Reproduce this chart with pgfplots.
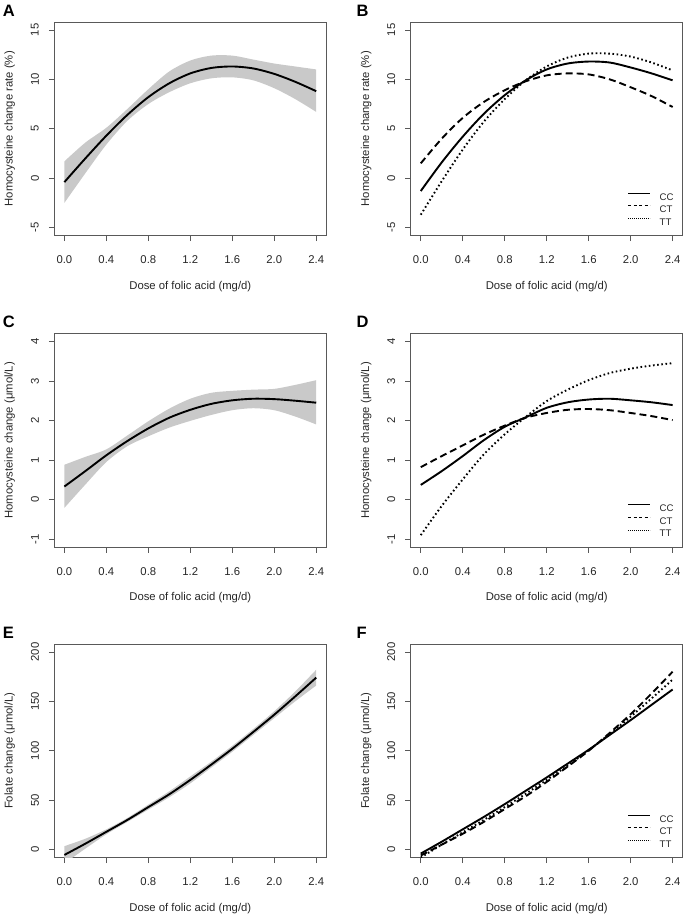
\documentclass[border=0pt]{standalone}
\usepackage{fontspec}
\setmainfont{Liberation Sans}
\usepackage{pgfplots}
\usepackage{pgfplotstable}
\usepgfplotslibrary{fillbetween}
\pgfplotsset{compat=1.18}

\newcommand\rfont{\fontsize{11.3}{13.5}\selectfont}
\newcommand\lfont{\fontsize{9.6}{11}\selectfont}
\newcommand\pfont{\fontsize{16.5}{18}\selectfont\bfseries}

% single fits with confidence band
\pgfplotstableread{
x   fit    lo    hi
0.0 -0.4   -2.5  1.7
0.2  2.0    0.5  3.6
0.4  4.3    3.4  5.1
0.6  6.4    5.8  7.0
0.8  8.2    7.5  9.0
1.0  9.6    8.7  10.8
1.2 10.6    9.6  11.9
1.4 11.15  10.1  12.4
1.6 11.3   10.2  12.4
1.8 11.1    9.9  12.0
2.0 10.55   9.1  11.6
2.2  9.75   8.0  11.3
2.4  8.8    6.7  11.0
}\tabA

\pgfplotstableread{
x   fit   lo    hi
0.0 0.33 -0.21 0.88
0.2 0.72  0.38 1.08
0.4 1.12  0.95 1.27
0.6 1.48  1.35 1.62
0.8 1.80  1.60 1.98
1.0 2.07  1.82 2.30
1.2 2.27  1.99 2.55
1.4 2.42  2.14 2.70
1.6 2.51  2.26 2.75
1.8 2.55  2.31 2.78
2.0 2.54  2.26 2.80
2.2 2.50  2.10 2.90
2.4 2.45  1.90 3.02
}\tabC

\pgfplotstableread{
x   fit    lo     hi
0.0 -5.4  -14.0   3.5
0.2  6.0    1.0  11.0
0.4 18.0   15.5  20.5
0.6 30.0   28.0  32.0
0.8 43.0   40.5  45.5
1.0 56.0   53.0  59.0
1.2 70.5   67.0  74.0
1.4 86.0   83.0  89.0
1.6 102.0  99.0 105.0
1.8 119.0 116.0 122.0
2.0 136.5 133.0 140.0
2.2 155.0 150.0 160.0
2.4 174.0 166.0 182.0
}\tabE

% fits by genotype
\pgfplotstableread{
x   CC    CT    TT
0.0 -1.3  1.5  -3.7
0.2  1.6  4.0  -0.3
0.4  4.2  6.1   2.9
0.6  6.5  7.7   5.7
0.8  8.4  8.9   8.0
1.0  9.9  9.8   9.9
1.2 11.0 10.4  11.3
1.4 11.6 10.6  12.2
1.6 11.8 10.5  12.6
1.8 11.7 10.0  12.6
2.0 11.2  9.2  12.3
2.2 10.6  8.3  11.7
2.4  9.9  7.2  10.9
}\tabB

\pgfplotstableread{
x   CC    CT    TT
0.0 0.37  0.82 -0.90
0.2 0.72  1.10 -0.16
0.4 1.10  1.37  0.51
0.6 1.50  1.64  1.14
0.8 1.84  1.87  1.65
1.0 2.08  2.07  2.09
1.2 2.32  2.19  2.49
1.4 2.46  2.27  2.78
1.6 2.53  2.29  3.02
1.8 2.55  2.26  3.20
2.0 2.51  2.19  3.31
2.2 2.46  2.11  3.39
2.4 2.39  2.01  3.45
}\tabD

\pgfplotstableread{
x   CC    CT    TT
0.0 -4.0  -6.0  -8.0
0.2  8.0   5.0   5.0
0.4 20.5  16.0  17.5
0.6 33.0  28.0  30.0
0.8 46.0  41.0  43.0
1.0 59.5  54.0  56.5
1.2 73.0  68.5  70.5
1.4 87.0  84.0  85.0
1.6 101.0 100.0 100.5
1.8 116.0 118.0 117.0
2.0 131.0 137.0 134.5
2.2 146.5 158.0 153.0
2.4 162.0 180.0 172.0
}\tabF

\pgfplotsset{
  panel/.style={
    scale only axis, width=272pt, height=213.5pt,
    xmin=-0.096, xmax=2.496,
    xtick={0,0.4,0.8,1.2,1.6,2.0,2.4},
    xticklabels={0.0,0.4,0.8,1.2,1.6,2.0,2.4},
    xtick pos=left, ytick pos=left,
    tick align=outside, major tick length=5.5pt,
    axis line style={black!65, line width=0.8pt},
    every tick/.append style={black!65, line width=0.8pt},
    tick label style={font=\rfont, text=black!85},
    label style={font=\rfont, text=black!85},
    xticklabel style={anchor=center, yshift=-19pt},
    yticklabel style={xshift=-13.9pt, rotate=90, anchor=center},
    xlabel={Dose of folic acid (mg/d)},
    xlabel style={at={([yshift=-51pt]axis description cs:0.5,0)}, anchor=center},
    ylabel style={at={([xshift=-44.5pt]axis description cs:0,0.5)}, anchor=center},
    /pgf/number format/assume math mode=true,
    legend cell align=left,
    legend image code/.code={\draw[##1] (0pt,3.45pt) -- (22pt,3.45pt);},
    legend style={draw=none, fill=none, inner sep=0pt,
      at={(axis description cs:1,0)}, anchor=south east,
      xshift=-9pt, yshift=10pt,
      nodes={inner sep=0pt, text height=6.9pt, text depth=0pt, font=\lfont, text=black!85},
      row sep=5.3pt, column sep=9pt},
  },
  fitline/.style={black, line width=1.9pt, smooth},
  cc/.style={black, line width=1.9pt, smooth},
  ct/.style={black, line width=1.9pt, smooth, dash pattern=on 7pt off 4pt},
  tt/.style={black, line width=1.9pt, smooth, dash pattern=on 1.6pt off 2.6pt},
  legcc/.style={black, line width=0.8pt},
  legct/.style={black, line width=0.8pt, dash pattern=on 3pt off 2.5pt},
  legtt/.style={black, line width=0.8pt, dash pattern=on 0.8pt off 1.2pt},
}

\begin{document}
\begin{tikzpicture}

% ---- A ----
\begin{axis}[panel, at={(54.3pt,-235.5pt)}, anchor=south west,
  ymin=-5.8, ymax=15.8, ytick={-5,0,5,10,15},
  ylabel={Homocysteine change rate (\%)}]
\addplot[name path=hiA, draw=none, smooth] table[x=x, y=hi] {\tabA};
\addplot[name path=loA, draw=none, smooth] table[x=x, y=lo] {\tabA};
\addplot[fill=black!21, draw=none] fill between[of=hiA and loA];
\addplot[fitline] table[x=x, y=fit] {\tabA};
\end{axis}

% ---- B ----
\begin{axis}[panel, at={(410.7pt,-235.5pt)}, anchor=south west,
  ymin=-5.8, ymax=15.8, ytick={-5,0,5,10,15},
  ylabel={Homocysteine change rate (\%)}]
\addlegendimage{legcc}
\addlegendimage{legct}
\addlegendimage{legtt}
\addplot[cc, forget plot] table[x=x, y=CC] {\tabB};
\addplot[ct, forget plot] table[x=x, y=CT] {\tabB};
\addplot[tt, forget plot] table[x=x, y=TT] {\tabB};
\legend{CC,CT,TT}
\end{axis}

% ---- C ----
\begin{axis}[panel, at={(54.3pt,-547pt)}, anchor=south west,
  ymin=-1.2, ymax=4.2, ytick={-1,0,1,2,3,4},
  ylabel={Homocysteine change (μmol/L)}]
\addplot[name path=hiC, draw=none, smooth] table[x=x, y=hi] {\tabC};
\addplot[name path=loC, draw=none, smooth] table[x=x, y=lo] {\tabC};
\addplot[fill=black!21, draw=none] fill between[of=hiC and loC];
\addplot[fitline] table[x=x, y=fit] {\tabC};
\end{axis}

% ---- D ----
\begin{axis}[panel, at={(410.7pt,-547pt)}, anchor=south west,
  ymin=-1.2, ymax=4.2, ytick={-1,0,1,2,3,4},
  ylabel={Homocysteine change (μmol/L)}]
\addlegendimage{legcc}
\addlegendimage{legct}
\addlegendimage{legtt}
\addplot[cc, forget plot] table[x=x, y=CC] {\tabD};
\addplot[ct, forget plot] table[x=x, y=CT] {\tabD};
\addplot[tt, forget plot] table[x=x, y=TT] {\tabD};
\legend{CC,CT,TT}
\end{axis}

% ---- E ----
\begin{axis}[panel, at={(54.3pt,-857.5pt)}, anchor=south west,
  ymin=-8, ymax=208, ytick={0,50,100,150,200},
  ylabel={Folate change (μmol/L)}]
\addplot[name path=hiE, draw=none, smooth] table[x=x, y=hi] {\tabE};
\addplot[name path=loE, draw=none, smooth] table[x=x, y=lo] {\tabE};
\addplot[fill=black!21, draw=none] fill between[of=hiE and loE];
\addplot[fitline] table[x=x, y=fit] {\tabE};
\end{axis}

% ---- F ----
\begin{axis}[panel, at={(410.7pt,-857.5pt)}, anchor=south west,
  ymin=-8, ymax=208, ytick={0,50,100,150,200},
  ylabel={Folate change (μmol/L)}]
\addlegendimage{legcc}
\addlegendimage{legct}
\addlegendimage{legtt}
\addplot[cc, forget plot] table[x=x, y=CC] {\tabF};
\addplot[ct, forget plot] table[x=x, y=CT] {\tabF};
\addplot[tt, forget plot] table[x=x, y=TT] {\tabF};
\legend{CC,CT,TT}
\end{axis}

% panel letters
\node[font=\pfont, inner sep=0pt, anchor=base west] at (2.6pt,-16.7pt) {A};
\node[font=\pfont, inner sep=0pt, anchor=base west] at (356.5pt,-16.7pt) {B};
\node[font=\pfont, inner sep=0pt, anchor=base west] at (2.6pt,-327.6pt) {C};
\node[font=\pfont, inner sep=0pt, anchor=base west] at (356.5pt,-327.6pt) {D};
\node[font=\pfont, inner sep=0pt, anchor=base west] at (2.6pt,-638.4pt) {E};
\node[font=\pfont, inner sep=0pt, anchor=base west] at (356.5pt,-638.4pt) {F};

\pgfresetboundingbox
\useasboundingbox (0pt,-915pt) rectangle (685pt,0pt);
\end{tikzpicture}
\end{document}
